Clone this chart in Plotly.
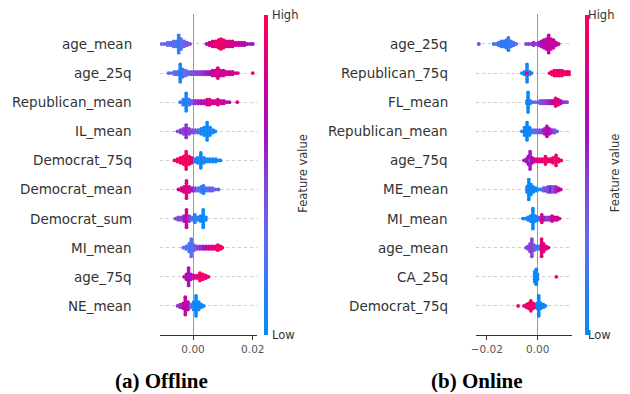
import plotly.graph_objects as go

# ---------------- data (SHAP value, stack count, feature value 0..1) ----------------
OFF_FEATURES = ["age_mean", "age_25q", "Republican_mean", "IL_mean", "Democrat_75q",
                "Democrat_mean", "Democrat_sum", "MI_mean", "age_75q", "NE_mean"]
ON_FEATURES = ["age_25q", "Republican_75q", "FL_mean", "Republican_mean", "age_75q",
               "ME_mean", "MI_mean", "age_mean", "CA_25q", "Democrat_75q"]

off_age_mean = [(-0.0105,1,0.35),(-0.0095,1,0.3),(-0.0085,2,0.3),(-0.0075,2,0.35),(-0.0065,3,0.3),
                (-0.0055,3,0.25),(-0.0048,8,0.15),(-0.0040,5,0.3),(-0.0030,3,0.35),(-0.0020,2,0.4),
                (-0.0010,1,0.45),
                (0.0045,1,0.7),(0.0055,2,0.8),(0.0065,3,0.85),(0.0075,3,0.9),(0.0085,4,0.95),
                (0.0093,5,0.95),(0.0102,4,0.9),(0.0112,3,0.85),(0.0122,3,0.85),(0.0132,3,0.8),
                (0.0142,2,0.8),(0.0152,2,0.75),(0.0162,2,0.7),(0.0172,2,0.7),(0.0182,1,0.65),
                (0.0192,1,0.6),(0.0200,1,0.6)]
off_age_25q = [(-0.0082,1,0.35),(-0.0072,1,0.3),(-0.0062,2,0.3),(-0.0052,2,0.25),(-0.0043,8,0.1),
               (-0.0035,4,0.2),(-0.0025,3,0.3),(-0.0015,2,0.35),(-0.0005,2,0.4),(0.0005,2,0.45),
               (0.0015,2,0.5),(0.0025,2,0.5),(0.0035,2,0.55),(0.0045,2,0.6),(0.0055,2,0.65),
               (0.0065,3,0.7),(0.0075,3,0.8),(0.0083,5,0.85),(0.0092,3,0.8),(0.0102,3,0.8),
               (0.0112,2,0.85),(0.0122,2,0.8),(0.0132,2,0.8),(0.0142,1,0.85),(0.0150,1,0.85),
               (0.0200,1,0.95)]
off_republican_mean = [(-0.0043,1,0.2),(-0.0033,3,0.15),(-0.0023,8,0.05),(-0.0013,3,0.2),(-0.0003,2,0.4),
                       (0.0007,2,0.55),(0.0017,2,0.6),(0.0027,2,0.65),(0.0037,2,0.7),(0.0047,3,0.8),
                       (0.0055,3,0.85),(0.0065,2,0.8),(0.0075,2,0.85),(0.0083,3,0.85),(0.0093,2,0.8),
                       (0.0103,2,0.75),(0.0113,1,0.7),(0.0122,1,0.7),(0.0148,1,0.9)]
off_il_mean = [(-0.0052,1,0.45),(-0.0042,2,0.5),(-0.0032,3,0.5),(-0.0023,6,0.55),(-0.0013,3,0.5),
               (-0.0003,2,0.45),(0.0007,2,0.4),(0.0017,2,0.2),(0.0027,3,0.1),(0.0037,4,0.05),
               (0.0047,8,0.02),(0.0057,4,0.05),(0.0067,2,0.05),(0.0075,1,0.05)]
off_democrat_75q = [(-0.0062,1,0.95),(-0.0052,2,0.95),(-0.0042,3,0.95),(-0.0032,4,0.95),(-0.0023,8,0.95),
                    (-0.0013,4,0.95),(-0.0005,3,0.9),(0.0005,2,0.1),(0.0015,3,0.05),(0.0026,7,0.02),
                    (0.0036,3,0.05),(0.0046,2,0.05),(0.0056,2,0.05),(0.0066,2,0.05),(0.0076,2,0.05),
                    (0.0086,1,0.05),(0.0092,1,0.05)]
off_democrat_mean = [(-0.0049,1,0.8),(-0.0039,2,0.85),(-0.0030,3,0.85),(-0.0022,8,0.9),(-0.0013,3,0.8),
                     (-0.0003,2,0.6),(0.0007,2,0.45),(0.0017,2,0.3),(0.0027,3,0.2),(0.0035,4,0.1),
                     (0.0045,2,0.3),(0.0055,2,0.35),(0.0065,2,0.35),(0.0075,1,0.35),(0.0085,1,0.35)]
off_democrat_sum = [(-0.0059,1,0.45),(-0.0050,2,0.45),(-0.0040,2,0.5),(-0.0030,3,0.6),(-0.0022,8,0.8),
                    (-0.0013,3,0.5),(-0.0004,2,0.3),(0.0006,4,0.1),(0.0016,2,0.1),(0.0025,3,0.05),
                    (0.0034,8,0.02),(0.0043,2,0.05)]
off_mi_mean = [(-0.0033,1,0.3),(-0.0023,2,0.25),(-0.0013,4,0.2),(-0.0006,8,0.25),(0.0003,3,0.35),
               (0.0013,2,0.5),(0.0023,2,0.55),(0.0033,2,0.6),(0.0043,2,0.7),(0.0053,2,0.8),
               (0.0063,2,0.85),(0.0073,2,0.9),(0.0083,3,0.95),(0.0092,2,0.95),(0.0098,1,0.95)]
off_age_75q = [(-0.0030,1,0.7),(-0.0022,3,0.75),(-0.0015,8,0.65),(-0.0007,3,0.6),(0.0003,2,0.8),
               (0.0013,2,0.9),(0.0023,4,0.95),(0.0033,3,0.95),(0.0043,2,0.9),(0.0052,1,0.9)]
off_ne_mean = [(-0.0052,1,0.5),(-0.0043,2,0.55),(-0.0033,3,0.7),(-0.0026,8,0.75),(-0.0017,4,0.7),
               (-0.0008,2,0.3),(0.0002,4,0.1),(0.0010,9,0.02),(0.0019,4,0.05),(0.0028,2,0.05),
               (0.0036,1,0.05)]

on_age_25q = [(-0.0231,1,0.45),(-0.0173,1,0.2),(-0.0163,1,0.25),(-0.0153,2,0.2),(-0.0143,3,0.2),
              (-0.0133,3,0.15),(-0.0123,4,0.1),(-0.0115,6,0.15),(-0.0105,3,0.25),(-0.0095,2,0.2),
              (-0.0085,1,0.3),(-0.0046,1,0.5),(-0.0036,1,0.5),(-0.0026,1,0.5),(-0.0016,2,0.55),
              (-0.0006,1,0.5),(0.0004,2,0.55),(0.0014,3,0.6),(0.0024,4,0.7),(0.0034,5,0.75),
              (0.0043,8,0.75),(0.0052,5,0.8),(0.0062,4,0.75),(0.0072,2,0.75),(0.0082,1,0.8)]
on_republican_75q = [(-0.0062,1,0.05),(-0.0052,2,0.05),(-0.0042,8,0.05),(-0.0032,2,0.05),(-0.0024,1,0.05),
                     (-0.0042,1,0.95),
                     (0.0046,1,0.95),(0.0055,2,0.95),(0.0065,3,0.95),(0.0075,3,0.95),(0.0085,3,0.95),
                     (0.0095,3,0.95),(0.0105,2,0.95),(0.0115,2,0.95),(0.0123,2,0.95)]
on_fl_mean = [(-0.0042,2,0.05),(-0.0038,9,0.02),(-0.0030,2,0.1),(-0.0020,1,0.2),(-0.0010,1,0.3),
              (0.0000,1,0.35),(0.0010,2,0.4),(0.0020,2,0.45),(0.0030,2,0.5),(0.0040,2,0.55),
              (0.0050,2,0.6),(0.0060,2,0.75),(0.0070,4,0.9),(0.0080,3,0.85),(0.0090,2,0.7),
              (0.0100,1,0.6),(0.0110,1,0.5),(0.0115,1,0.5)]
on_republican_mean = [(-0.0062,1,0.1),(-0.0052,4,0.05),(-0.0042,8,0.02),(-0.0032,4,0.05),(-0.0022,2,0.2),
                      (-0.0012,2,0.3),(-0.0002,2,0.35),(0.0008,2,0.4),(0.0018,2,0.5),(0.0027,3,0.6),
                      (0.0036,5,0.75),(0.0046,3,0.7),(0.0056,2,0.55),(0.0066,2,0.4),(0.0076,1,0.35)]
on_age_75q = [(-0.0054,1,0.6),(-0.0044,2,0.6),(-0.0037,4,0.7),(-0.0030,8,0.6),(-0.0030,1,0.15),
              (-0.0022,3,0.75),(-0.0012,2,0.8),(-0.0002,2,0.85),(0.0008,2,0.9),(0.0018,2,0.9),
              (0.0030,4,0.95),(0.0040,2,0.9),(0.0050,2,0.9),(0.0060,3,0.95),(0.0072,5,0.95),
              (0.0082,2,0.95),(0.0092,1,0.95)]
on_me_mean = [(-0.0042,3,0.05),(-0.0035,9,0.02),(-0.0027,5,0.05),(-0.0018,3,0.05),(-0.0008,2,0.05),
              (0.0002,1,0.05),(0.0012,1,0.1),(0.0022,2,0.3),(0.0030,2,0.45),(0.0040,3,0.4),
              (0.0050,3,0.6),(0.0060,3,0.35),(0.0070,3,0.55),(0.0080,2,0.75),(0.0090,1,0.8)]
on_mi_mean = [(-0.0058,1,0.05),(-0.0048,1,0.05),(-0.0038,2,0.05),(-0.0028,3,0.05),(-0.0019,9,0.02),
              (-0.0010,3,0.05),(0.0000,2,0.1),(0.0010,2,0.4),(0.0016,4,0.85),(0.0026,2,0.6),
              (0.0036,2,0.5),(0.0046,2,0.55),(0.0056,3,0.8),(0.0066,2,0.7),(0.0076,2,0.85),
              (0.0085,1,0.8)]
on_age_mean = [(-0.0046,1,0.5),(-0.0038,2,0.45),(-0.0030,4,0.5),(-0.0023,8,0.5),(-0.0015,3,0.45),
               (-0.0005,2,0.1),(0.0005,2,0.2),(0.0015,8,0.9),(0.0023,4,0.85),(0.0033,2,0.85),
               (0.0042,1,0.9)]
on_ca_25q = [(-0.0012,5,0.05),(-0.0006,7,0.02),(-0.0001,3,0.05),(0.0073,1,0.95)]
on_democrat_75q = [(-0.0077,1,0.95),(-0.0054,1,0.95),(-0.0044,2,0.9),(-0.0035,3,0.95),(-0.0027,5,0.95),
                   (-0.0018,3,0.9),(-0.0009,2,0.85),(-0.0002,3,0.1),(0.0004,9,0.02),(0.0012,3,0.05),
                   (0.0022,2,0.05),(0.0030,1,0.05)]

OFF_ROWS = [off_age_mean, off_age_25q, off_republican_mean, off_il_mean, off_democrat_75q,
            off_democrat_mean, off_democrat_sum, off_mi_mean, off_age_75q, off_ne_mean]
ON_ROWS = [on_age_25q, on_republican_75q, on_fl_mean, on_republican_mean, on_age_75q,
           on_me_mean, on_mi_mean, on_age_mean, on_ca_25q, on_democrat_75q]

OFF_TICKS = [0.0, 0.02]
ON_TICKS = [-0.02, 0.0]
TICK_TEXT_OFF = ["0.00", "0.02"]
TICK_TEXT_ON = ["\u22120.02", "0.00"]

# ---------------- layout helpers ----------------
W, H = 630, 394
DY = 0.085  # vertical spacing of stacked dots (row units)
MSIZE = 3.8
COLORSCALE = [[0.0, "#008bfb"], [0.3, "#5f6cf0"], [0.5, "#8a3fd6"], [0.62, "#a310c0"],
              [0.78, "#cc009a"], [1.0, "#ff0052"]]
TXT = "#333333"


def swarm(rows):
    xs, ys, cs = [], [], []
    nrow = len(rows)
    for i, row in enumerate(rows):
        yc = nrow - 1 - i
        for v, n, c in row:
            for k in range(n):
                xs.append(v)
                ys.append(yc + (k - (n - 1) / 2) * DY)
                cs.append(c)
    return xs, ys, cs


def px(x):
    return x / W


def py(y):
    return 1 - y / H


fig = go.Figure()

x1, y1, c1 = swarm(OFF_ROWS)
x2, y2, c2 = swarm(ON_ROWS)
fig.add_trace(go.Scatter(x=x1, y=y1, mode="markers", xaxis="x", yaxis="y",
                         marker=dict(size=MSIZE, color=c1, coloraxis="coloraxis", line=dict(width=0)),
                         showlegend=False, hoverinfo="skip"))
fig.add_trace(go.Scatter(x=x2, y=y2, mode="markers", xaxis="x2", yaxis="y2",
                         marker=dict(size=MSIZE, color=c2, coloraxis="coloraxis2", line=dict(width=0)),
                         showlegend=False, hoverinfo="skip"))

ydom = [py(335), py(14)]
yrange = [-1.0, 10.03]
rows_y = list(range(10))

common_x = dict(showline=True, linecolor=TXT, linewidth=1, ticks="outside", ticklen=4,
                tickcolor=TXT, tickwidth=1, showgrid=False, zeroline=True,
                zerolinecolor="#999999", zerolinewidth=1.3,
                tickfont=dict(family="DejaVu Sans", size=10.5, color="#555555"))
common_y = dict(range=yrange, domain=ydom, tickvals=rows_y, showticklabels=False,
                showgrid=True, gridcolor="#cccccc", griddash="dot", gridwidth=0.7,
                zeroline=False, showline=False, ticks="")

cb_common = dict(thickness=3.5, outlinewidth=0, showticklabels=False, ticks="",
                 xpad=0, ypad=0,
                 len=(335 - 15) / H, lenmode="fraction", y=py(335), yanchor="bottom",
                 xanchor="left")

fig.update_layout(
    width=W, height=H, margin=dict(l=0, r=0, t=0, b=0),
    paper_bgcolor="white", plot_bgcolor="white",
    xaxis=dict(domain=[px(158), px(257)], range=[-0.01115, 0.0213], tickvals=OFF_TICKS,
               ticktext=TICK_TEXT_OFF, anchor="y", **common_x),
    yaxis=dict(anchor="x", **common_y),
    xaxis2=dict(domain=[px(481), px(579)], range=[-0.0242, 0.01346], tickvals=ON_TICKS,
                ticktext=TICK_TEXT_ON, anchor="y2", **common_x),
    yaxis2=dict(anchor="x2", **common_y),
    coloraxis=dict(colorscale=COLORSCALE, cmin=0, cmax=1,
                   colorbar=dict(x=px(264), **cb_common)),
    coloraxis2=dict(colorscale=COLORSCALE, cmin=0, cmax=1,
                    colorbar=dict(x=px(592), **cb_common)),
)

ann = []
for i, name in enumerate(OFF_FEATURES):
    ann.append(dict(x=px(132), xref="paper", y=9 - i, yref="y", text=name, showarrow=False,
                    xanchor="right", yanchor="middle",
                    font=dict(family="DejaVu Sans", size=13.5, color=TXT)))
for i, name in enumerate(ON_FEATURES):
    ann.append(dict(x=px(454), xref="paper", y=9 - i, yref="y2", text=name, showarrow=False,
                    xanchor="right", yanchor="middle",
                    font=dict(family="DejaVu Sans", size=13.5, color=TXT)))

for xb in (271, 593):
    ann.append(dict(x=px(xb), y=py(15), xref="paper", yref="paper", text="High", showarrow=False,
                    xanchor="left", yanchor="middle",
                    font=dict(family="DejaVu Sans", size=11.5, color=TXT)))
    ann.append(dict(x=px(xb), y=py(335), xref="paper", yref="paper", text="Low", showarrow=False,
                    xanchor="left", yanchor="middle",
                    font=dict(family="DejaVu Sans", size=11.5, color=TXT)))
for xc in (304, 623):
    ann.append(dict(x=px(xc), y=py(173), xref="paper", yref="paper", text="Feature value",
                    showarrow=False, textangle=-90, xanchor="center", yanchor="middle",
                    font=dict(family="DejaVu Sans", size=11.5, color=TXT)))

ann.append(dict(x=px(160), y=py(381), xref="paper", yref="paper", text="<b>(a) Offline</b>",
                showarrow=False, xanchor="center", yanchor="middle",
                font=dict(family="Liberation Serif", size=21, color="black")))
ann.append(dict(x=px(482), y=py(381), xref="paper", yref="paper", text="<b>(b) Online</b>",
                showarrow=False, xanchor="center", yanchor="middle",
                font=dict(family="Liberation Serif", size=21, color="black")))

fig.update_layout(annotations=ann)
fig.write_html("out.html", config={"displayModeBar": False},
               post_script="document.body.style.margin='0';document.body.style.overflow='hidden';")
